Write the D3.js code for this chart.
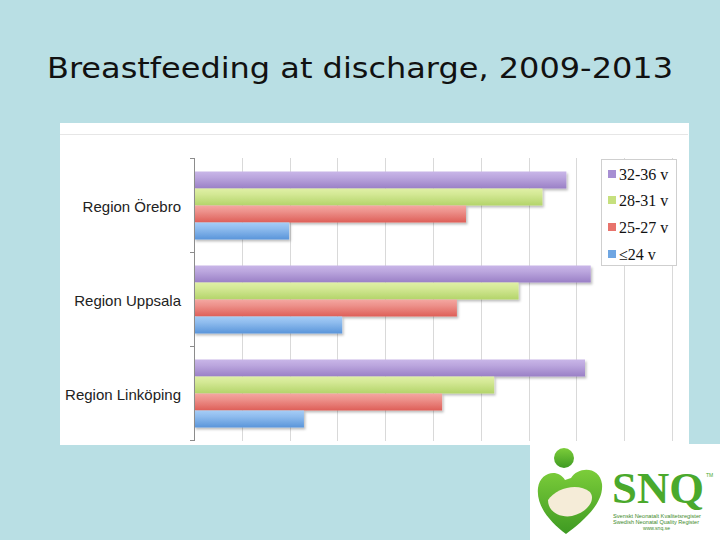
<!DOCTYPE html>
<html><head><meta charset="utf-8">
<script src="https://cdn.jsdelivr.net/npm/d3@7"></script>
<style>html,body{margin:0;padding:0;background:#b9dfe4;}svg{display:block;}</style>
</head><body>
<svg id="c" width="720" height="540"></svg>
<script>
const categories = ["Region Örebro", "Region Uppsala", "Region Linköping"];
const seriesNames = ["32-36 v", "28-31 v", "25-27 v", "≤24 v"];
const v32_36 = [77.9, 83.0, 81.8];
const v28_31 = [72.9, 67.9, 62.8];
const v25_27 = [56.9, 55.0, 51.9];
const v24 = [19.9, 31.0, 23.0];
const xTicks = [0,10,20,30,40,50,60,70,80,90,100];
const seriesValues = [v32_36, v28_31, v25_27, v24];
const colTop = ["#c9b6e8", "#e0f0a6", "#f4a7a1", "#a6cdf6"];
const colBot = ["#9a80c6", "#b3d46a", "#de5f58", "#5a95da"];
const legendCol = ["#a78fd3", "#c6e07e", "#e8736c", "#6fa6e2"];

const svg = d3.select("#c");
const defs = svg.append("defs");
colTop.forEach((c,i)=>{
  const g = defs.append("linearGradient").attr("id","g"+i).attr("x1",0).attr("y1",0).attr("x2",0).attr("y2",1);
  g.append("stop").attr("offset","0%").attr("stop-color",c);
  g.append("stop").attr("offset","35%").attr("stop-color",d3.interpolateRgb(c,colBot[i])(0.3));
  g.append("stop").attr("offset","100%").attr("stop-color",colBot[i]);
});
const f = defs.append("filter").attr("id","sh").attr("x","-5%").attr("y","-20%").attr("width","115%").attr("height","160%");
f.append("feDropShadow").attr("dx",1.5).attr("dy",2).attr("stdDeviation",1.2).attr("flood-color","#000").attr("flood-opacity",0.25);

// Title
svg.append("text").attr("x",47).attr("y",78)
  .attr("font-family","DejaVu Sans").attr("font-size",29).attr("fill","#111")
  .attr("textLength",626).attr("lengthAdjust","spacingAndGlyphs")
  .text("Breastfeeding at discharge, 2009-2013");

// chart panel
svg.append("rect").attr("x",60).attr("y",123).attr("width",629).attr("height",322).attr("fill","#fff");
svg.append("line").attr("x1",60).attr("x2",688).attr("y1",134.5).attr("y2",134.5).attr("stroke","#e6e6e6").attr("stroke-width",1);

const x = d3.scaleLinear().domain([0,100]).range([194,672]);
const y = d3.scaleBand().domain(categories).range([158,440]);
const ys = d3.scaleBand().domain(seriesNames).range([13.5, 81.5]);

// gridlines
svg.append("g").selectAll("line").data(xTicks.slice(1)).join("line")
  .attr("x1",d=>Math.round(x(d))+0.5).attr("x2",d=>Math.round(x(d))+0.5)
  .attr("y1",158).attr("y2",441).attr("stroke","#d9d9d9").attr("stroke-width",1);

// bars
const groups = svg.append("g").selectAll("g").data(categories).join("g")
  .attr("transform",c=>`translate(0,${y(c)})`);
groups.each(function(c,ci){
  d3.select(this).selectAll("rect").data(seriesNames).join("rect")
    .attr("x",x(0)).attr("y",s=>ys(s))
    .attr("width",(s,si)=>x(seriesValues[si][ci])-x(0))
    .attr("height",ys.bandwidth())
    .attr("fill",(s,si)=>`url(#g${si})`)
    .attr("filter","url(#sh)");
});

// category axis
const yAxis = d3.axisLeft(y).tickSize(0).tickPadding(13);
const ag = svg.append("g").attr("transform","translate(194,2)").call(yAxis);
ag.select(".domain").remove();
ag.selectAll("text").attr("font-family","Liberation Sans, Arial").attr("font-size",15).attr("fill","#222");
svg.append("line").attr("x1",194.5).attr("x2",194.5).attr("y1",158).attr("y2",441).attr("stroke","#8c8c8c");
const edges = categories.map(c=>y(c)).concat([y(categories[2])+y.bandwidth()]);
svg.append("g").selectAll("line").data(edges).join("line")
  .attr("x1",190).attr("x2",194).attr("y1",d=>Math.round(d)+0.5).attr("y2",d=>Math.round(d)+0.5)
  .attr("stroke","#8c8c8c");

// legend
const lg = svg.append("g");
lg.append("rect").attr("x",601.5).attr("y",159.5).attr("width",75).attr("height",106).attr("fill","#fff").attr("stroke","#cfcfcf");
const ly = [175, 201, 228, 255];
seriesNames.forEach((s,i)=>{
  lg.append("rect").attr("x",608).attr("y",ly[i]-5).attr("width",8).attr("height",8).attr("fill",legendCol[i]);
  lg.append("text").attr("x",619).attr("y",ly[i]+5).attr("font-family","Liberation Serif, DejaVu Serif, serif")
    .attr("font-size",16).attr("fill","#111").text(s);
});

// logo box
const lb = svg.append("g");
lb.append("rect").attr("x",530).attr("y",444).attr("width",190).attr("height",96).attr("fill","#fff");
const hg = defs.append("linearGradient").attr("id","hg").attr("x1",0).attr("y1",0).attr("x2",0).attr("y2",1);
hg.append("stop").attr("offset","0%").attr("stop-color","#7ccd3a");
hg.append("stop").attr("offset","100%").attr("stop-color","#3e9a22");
lb.append("circle").attr("cx",564).attr("cy",458).attr("r",10).attr("fill","url(#hg)");
lb.append("path").attr("d","M571,478 C578,466 600,466 602,484 C604,504 582,522 566,534 C550,522 536,506 538,488 C540,472 558,468 565,480 Z")
  .attr("fill","url(#hg)");
lb.append("path").attr("d","M548,500 C556,488 578,482 590,492 C596,500 588,512 572,516 C560,518 548,512 548,500 Z").attr("fill","#f5ecd8");
lb.append("text").attr("x",612).attr("y",503).attr("font-family","Liberation Serif, serif").attr("font-weight","bold")
  .attr("font-size",44).attr("fill","#4aa92c").attr("textLength",92).attr("lengthAdjust","spacingAndGlyphs").text("SNQ");
lb.append("text").attr("x",706).attr("y",477).attr("font-family","Liberation Sans").attr("font-size",5).attr("fill","#4aa92c").text("TM");
const small = ["Svenskt Neonatalt Kvalitetsregister","Swedish Neonatal Quality Register","www.snq.se"];
const smallX = [613, 613, 643];
const smallW = [88, 86, 27];
small.forEach((t,i)=>{
  lb.append("text").attr("x",smallX[i]).attr("y",518+i*6).attr("font-family","Liberation Sans").attr("font-size",4.5)
    .attr("textLength",smallW[i]).attr("lengthAdjust","spacingAndGlyphs")
    .attr("fill","#3e8a2a").text(t);
});
</script>
</body></html>
